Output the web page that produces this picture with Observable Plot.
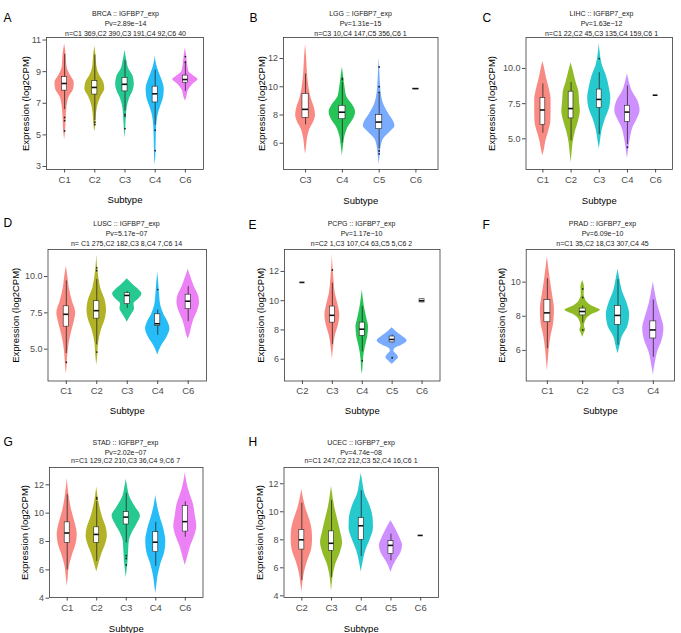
<!DOCTYPE html>
<html><head><meta charset="utf-8">
<script src="https://cdn.jsdelivr.net/npm/d3@7"></script>
<script src="https://cdn.jsdelivr.net/npm/@observablehq/plot@0.6"></script>
<style>
body{margin:0;background:#fff;}
#root{position:relative;width:681px;height:633px;overflow:hidden;background:#fff;font-family:"Liberation Sans",Arial,sans-serif;}
.panel{position:absolute;}
</style></head><body><div id="root"></div>
<script>
// ---------- DATA ----------
const yLabel = "Expression (log2CPM)";
const xLabel = "Subtype";
const pal5 = ["#F8766D","#A3A500","#00BF7D","#00B0F6","#E76BF3"];
const pal4 = ["#F8766D","#7CAE00","#00BFC4","#C77CFF"];
const pal3 = ["#F8766D","#00BA38","#619CFF"];

// Panel A
const A_title = ["BRCA :: IGFBP7_exp","Pv=2.89e\u221214","n=C1 369,C2 390,C3 191,C4 92,C6 40"];
const A_cats = ["C1","C2","C3","C4","C6"];
const A_colors = pal5;
const A_yticks = [3,5,7,9,11];
const A_violins = [
  [[10.75,0],[10.1,.05],[9.3,.08],[8.8,.18],[8.3,.32],[7.9,.3],[7.4,.15],[6.8,.08],[6,.05],[5.2,.03],[4.7,0]],
  [[10.6,0],[10,.04],[9.3,.07],[8.8,.15],[8.3,.3],[7.9,.33],[7.4,.2],[6.8,.09],[6.2,.05],[5.6,.03],[5.2,0]],
  [[10.35,0],[9.7,.06],[9.2,.12],[8.7,.27],[8.2,.31],[7.8,.27],[7.3,.15],[6.7,.07],[6,.04],[5.3,.02],[4.8,0]],
  [[10,0],[9.4,.05],[9,.12],[8.5,.22],[7.9,.3],[7.4,.28],[6.9,.2],[6.3,.1],[5.6,.05],[4.5,.03],[3.6,.02],[3.1,0]],
  [[10.5,0],[10,.04],[9.5,.07],[9.0,.12],[8.7,.3],[8.5,.42],[8.2,.25],[7.8,.1],[7.4,.05],[7.15,0]]
];
const A_boxes = [[6.6,7.8,8.25,8.65,10.1],[5.9,7.55,8.0,8.4,10.05],[6.5,7.75,8.2,8.6,9.7],[5.6,7.05,7.6,8.05,9.1],[7.75,8.3,8.5,8.75,9.6]];
const A_outliers = [[6.1,5.9,5.25],[5.8,5.65],[6.3,6.2,5.4],[5.3,4.0],[9.95,9.6]];

// Panel B
const B_title = ["LGG :: IGFBP7_exp","Pv=1.31e\u221215","n=C3 10,C4 147,C5 356,C6 1"];
const B_cats = ["C3","C4","C5","C6"];
const B_colors = [pal3[0],pal3[1],pal3[2],null];
const B_yticks = [6,8,10,12];
const B_violins = [
  [[13,0],[12,.03],[11,.05],[10,.09],[9.2,.15],[8.5,.24],[8,.27],[7.5,.22],[7,.12],[6.3,.05],[5.6,.02],[5.2,0]],
  [[11.4,0],[10.8,.03],[10,.07],[9.3,.12],[8.7,.28],[8.2,.36],[7.7,.3],[7.1,.15],[6.5,.07],[5.8,.03],[5.1,0]],
  [[12.05,0],[11,.02],[10,.04],[9.3,.07],[8.6,.15],[8,.28],[7.5,.4],[7.2,.43],[6.8,.3],[6.3,.12],[5.7,.05],[5,.02],[4.5,0]],
  null
];
const B_boxes = [[7.3,7.8,8.4,9.5,10.9],[6.0,7.7,8.2,8.65,10.3],[5.6,7.0,7.5,8.0,9.5],[9.87,9.87,9.87,9.87,9.87]];
const B_outliers = [[],[10.6,10.5],[11.4,10,9.6,5.45,5.25],[]];

// Panel C
const C_title = ["LIHC :: IGFBP7_exp","Pv=1.63e\u221212","n=C1 22,C2 45,C3 135,C4 159,C6 1"];
const C_cats = ["C1","C2","C3","C4","C6"];
const C_colors = [pal4[0],pal4[1],pal4[2],pal4[3],null];
const C_yticks = [5,7.5,10];
const C_violins = [
  [[10.5,0],[10,.06],[9.3,.13],[8.6,.22],[7.8,.29],[7,.29],[6.2,.28],[5.5,.2],[4.8,.1],[4.2,.05],[3.8,0]],
  [[10.4,0],[9.8,.08],[9,.18],[8.3,.28],[7.6,.3],[7,.33],[6.3,.27],[5.5,.15],[4.7,.07],[3.9,.03],[3.3,0]],
  [[11.75,0],[11,.04],[10.3,.1],[9.5,.25],[8.6,.36],[7.9,.41],[7.2,.37],[6.4,.22],[5.6,.1],[4.8,.04],[4.3,0]],
  [[9.6,0],[9.1,.06],[8.4,.17],[7.7,.37],[7,.45],[6.4,.35],[5.8,.2],[5,.1],[4.2,.04],[3.6,0]],
  null
];
const C_boxes = [[5.4,6.0,7.05,7.9,8.9],[4.85,6.45,7.15,8.35,9.0],[5.3,7.2,7.8,8.5,9.7],[4.6,6.2,6.9,7.35,8.75],[8.1,8.1,8.1,8.1,8.1]];
const C_outliers = [[],[],[10.7],[4.4],[]];

// Panel D
const D_title = ["LUSC :: IGFBP7_exp","Pv=5.17e\u221207","n= C1 275,C2 182,C3 8,C4 7,C6 14"];
const D_cats = ["C1","C2","C3","C4","C6"];
const D_colors = pal5;
const D_yticks = [5,7.5,10];
const D_violins = [
  [[10.7,0],[10,.05],[9.2,.1],[8.3,.2],[7.5,.31],[6.8,.25],[6,.15],[5.2,.08],[4.4,.04],[3.7,.02],[3.3,0]],
  [[11.5,0],[10.8,.02],[10,.06],[9.2,.13],[8.4,.27],[7.7,.32],[7,.27],[6.3,.15],[5.4,.06],[4.5,.03],[3.9,0]],
  [[9.85,0],[9.5,.16],[9.1,.37],[8.8,.48],[8.5,.4],[8.1,.22],[7.8,.24],[7.4,.15],[7.1,.06],[6.85,0]],
  [[10.3,0],[9.6,.03],[8.8,.06],[8,.1],[7.4,.2],[6.8,.35],[6.4,.4],[5.8,.3],[5.2,.12],[4.6,0]],
  [[10.5,0],[10,.08],[9.3,.2],[8.6,.35],[8.2,.37],[7.6,.3],[7,.18],[6.4,.1],[5.9,.04],[5.7,0]]
];
const D_boxes = [[4.7,6.55,7.4,7.95,9.7],[5.3,7.1,7.65,8.3,9.8],[7.8,8.1,8.7,8.85,8.95],[5.95,6.6,6.75,7.4,7.7],[6.9,7.75,8.3,8.75,9.3]];
const D_outliers = [[4.1],[10.6,10.4,4.8],[],[9.1],[]];

// Panel E
const E_title = ["PCPG :: IGFBP7_exp","Pv=1.17e\u221210","n=C2 1,C3 107,C4 63,C5 5,C6 2"];
const E_cats = ["C2","C3","C4","C5","C6"];
const E_colors = [null,pal3[0],pal3[1],pal3[2],null];
const E_yticks = [6,8,10,12];
const E_violins = [
  null,
  [[13.15,0],[12.3,.02],[11.5,.05],[10.5,.1],[9.8,.18],[9,.25],[8.3,.2],[7.6,.1],[6.8,.04],[6,0]],
  [[10.75,0],[10.2,.03],[9.5,.08],[8.8,.15],[8.2,.21],[7.5,.18],[6.8,.1],[6,.04],[5.3,.02],[4.95,0]],
  [[8.15,0],[7.9,.13],[7.6,.32],[7.25,.5],[6.95,.32],[6.7,.08],[6.55,.06],[6.35,.14],[6.1,.21],[5.85,.1],[5.65,0]],
  null
];
const E_boxes = [[11.25,11.25,11.25,11.25,11.25],[7.0,8.5,9.0,9.6,11.2],[6.5,7.6,8.05,8.5,9.6],[7.1,7.15,7.35,7.55,7.65],[9.85,9.88,10.0,10.1,10.12]];
const E_outliers = [[],[12.1],[5.9],[6.1],[]];

// Panel F
const F_title = ["PRAD :: IGFBP7_exp","Pv=6.09e\u221210","n=C1 35,C2 18,C3 307,C4 45"];
const F_cats = ["C1","C2","C3","C4"];
const F_colors = pal4;
const F_yticks = [6,8,10];
const F_violins = [
  [[11.5,0],[10.8,.04],[10,.09],[9.2,.15],[8.4,.2],[7.6,.18],[6.8,.1],[6,.05],[5.3,.02],[4.8,0]],
  [[10.1,0],[9.7,.05],[9.3,.04],[8.9,.1],[8.6,.26],[8.35,.5],[8.1,.26],[7.8,.1],[7.4,.05],[7.2,.08],[7,.04],[6.75,0]],
  [[10.75,0],[10.2,.05],[9.5,.12],[8.8,.25],[8.1,.33],[7.4,.28],[6.8,.12],[6.2,.05],[5.8,0]],
  [[10,0],[9.4,.05],[8.7,.12],[8,.22],[7.3,.3],[6.6,.25],[5.9,.12],[5.2,.05],[4.55,0]]
];
const F_boxes = [[6.1,7.65,8.2,8.95,10.2],[7.6,8.05,8.28,8.45,8.6],[6.3,7.5,8.05,8.6,10.15],[5.6,6.7,7.2,7.7,8.95]];
const F_outliers = [[],[9.6,9.1,7.2],[],[]];

// Panel G
const G_title = ["STAD :: IGFBP7_exp","Pv=2.02e\u221207","n=C1 129,C2 210,C3 36,C4 9,C6 7"];
const G_cats = ["C1","C2","C3","C4","C6"];
const G_colors = pal5;
const G_yticks = [4,6,8,10,12];
const G_violins = [
  [[12.45,0],[11.8,.03],[11,.08],[10.2,.15],[9.3,.27],[8.5,.34],[7.8,.3],[7,.17],[6.2,.07],[5.4,.03],[4.85,0]],
  [[11.85,0],[11.2,.04],[10.5,.1],[9.7,.2],[9,.32],[8.4,.36],[7.8,.3],[7.1,.17],[6.4,.07],[5.85,0]],
  [[12.4,0],[11.8,.05],[11.1,.13],[10.4,.32],[9.8,.48],[9.2,.36],[8.6,.2],[8,.1],[7.3,.08],[6.6,.06],[6,.03],[5.45,0]],
  [[11.25,0],[10.6,.05],[9.8,.14],[8.9,.27],[8,.34],[7.2,.3],[6.4,.17],[5.5,.07],[4.8,.03],[4.35,0]],
  [[12.85,0],[12.2,.05],[11.4,.15],[10.6,.28],[9.8,.34],[9.1,.39],[8.4,.32],[7.6,.17],[6.9,.08],[6.3,0]]
];
const G_boxes = [[6.0,7.9,8.6,9.35,11.3],[6.6,7.9,8.5,9.0,10.8],[7.9,9.2,9.72,10.07,11.4],[6.25,7.25,7.95,8.66,9.35],[8.3,8.7,9.4,10.5,10.8]];
const G_outliers = [[],[11.1,11.0],[7.0,6.8,6.35],[],[]];

// Panel H
const H_title = ["UCEC :: IGFBP7_exp","Pv=4.74e\u221208","n=C1 247,C2 212,C3 52,C4 16,C6 1"];
const H_cats = ["C2","C3","C4","C5","C6"];
const H_colors = [pal4[0],pal4[1],pal4[2],pal4[3],null];
const H_yticks = [4,6,8,10,12];
const H_violins = [
  [[11.6,0],[11,.05],[10.2,.14],[9.4,.27],[8.6,.35],[8,.36],[7.3,.33],[6.5,.2],[5.6,.08],[4.8,.03],[4.26,0]],
  [[11.8,0],[11.2,.04],[10.4,.1],[9.5,.2],[8.6,.3],[7.8,.37],[7.1,.3],[6.3,.15],[5.5,.06],[4.8,.02],[4.3,0]],
  [[12.75,0],[12.1,.05],[11.3,.12],[10.4,.3],[9.5,.4],[8.8,.41],[8,.3],[7.2,.15],[6.4,.06],[5.7,0]],
  [[9.35,0],[9,.1],[8.5,.22],[8,.33],[7.6,.39],[7.1,.34],[6.6,.2],[6.1,.07],[5.64,0]],
  null
];
const H_boxes = [[5.1,7.3,8.0,8.7,10.6],[5.3,7.2,7.75,8.6,10.8],[6.8,8.0,9.0,9.55,11.5],[6.5,7.0,7.6,7.9,8.4],[8.31,8.31,8.31,8.31,8.31]];
const H_outliers = [[],[],[],[],[]];

// ---------- LAYOUT ----------
const panels = [
  {letter:"A", title:A_title, cats:A_cats, colors:A_colors, yticks:A_yticks, violins:A_violins, boxes:A_boxes, outliers:A_outliers, ydom:[2.81,11.16], fmt:d3.format("d"),
   left:0, top:0, width:225, height:205, frame:[46,37,203,169], letterPos:[3,13], titleX:125, titleY:[11,21,30.5], yTitleX:21.5, xTitleY:196},
  {letter:"B", title:B_title, cats:B_cats, colors:B_colors, yticks:B_yticks, violins:B_violins, boxes:B_boxes, outliers:B_outliers, ydom:[4.14,13.49], fmt:d3.format("d"),
   left:225, top:0, width:230, height:205, frame:[283,37,437.5,169], letterPos:[249,13], titleX:360, titleY:[11,21,30.5], yTitleX:258, xTitleY:196.5},
  {letter:"C", title:C_title, cats:C_cats, colors:C_colors, yticks:C_yticks, violins:C_violins, boxes:C_boxes, outliers:C_outliers, ydom:[2.82,12.2], fmt:d3.format(".1f"),
   left:455, top:0, width:226, height:205, frame:[525.5,37,672,169], letterPos:[482,13], titleX:601, titleY:[11,21,30.5], yTitleX:488, xTitleY:196.5},
  {letter:"D", title:D_title, cats:D_cats, colors:D_colors, yticks:D_yticks, violins:D_violins, boxes:D_boxes, outliers:D_outliers, ydom:[2.81,11.86], fmt:d3.format(".1f"),
   left:0, top:205, width:225, height:210, frame:[47.5,249,206,380.5], letterPos:[3,218], titleX:126, titleY:[221,231,240.5], yTitleX:12, xTitleY:406.5},
  {letter:"E", title:E_title, cats:E_cats, colors:E_colors, yticks:E_yticks, violins:E_violins, boxes:E_boxes, outliers:E_outliers, ydom:[4.51,13.5], fmt:d3.format("d"),
   left:225, top:205, width:230, height:210, frame:[284,249,439.5,380.5], letterPos:[248,220], titleX:361, titleY:[221,231,240.5], yTitleX:257, xTitleY:406.5},
  {letter:"F", title:F_title, cats:F_cats, colors:F_colors, yticks:F_yticks, violins:F_violins, boxes:F_boxes, outliers:F_outliers, ydom:[4.21,11.91], fmt:d3.format("d"),
   left:455, top:205, width:226, height:210, frame:[525.7,249,674,380.5], letterPos:[482,220], titleX:602, titleY:[221,231,240.5], yTitleX:498, xTitleY:406.5},
  {letter:"G", title:G_title, cats:G_cats, colors:G_colors, yticks:G_yticks, violins:G_violins, boxes:G_boxes, outliers:G_outliers, ydom:[4.05,13.22], fmt:d3.format("d"),
   left:0, top:415, width:225, height:218, frame:[49,467,202.5,597], letterPos:[3,437], titleX:125, titleY:[440,449.5,458], yTitleX:21, xTitleY:625},
  {letter:"H", title:H_title, cats:H_cats, colors:H_colors, yticks:H_yticks, violins:H_violins, boxes:H_boxes, outliers:H_outliers, ydom:[3.88,13.16], fmt:d3.format("d"),
   left:225, top:415, width:230, height:218, frame:[283.5,467,438,597], letterPos:[248,437], titleX:360.5, titleY:[440,449.5,458], yTitleX:256, xTitleY:625}
];

const FONT = "'Liberation Sans', Arial, Helvetica, sans-serif";
const root = document.getElementById("root");

function drawPanel(p) {
  const n = p.cats.length;
  const [fx0, fy0, fx1, fy1] = p.frame;
  const mL = fx0 - p.left, mT = fy0 - p.top;
  const mR = p.left + p.width - fx1, mB = p.top + p.height - fy1;
  const at = (ax, ay) => ({frameAnchor: "top-left", dx: ax - fx0, dy: ay - fy0});
  const bw = 0.085;

  const vRows = [];
  p.violins.forEach((v, i) => {
    if (!v) return;
    v.slice().sort((a, b) => a[0] - b[0]).forEach(([y, w]) => vRows.push({g: i + 1, y, w, c: p.colors[i]}));
  });
  const bRows = p.boxes.map((b, i) => b && {g: i + 1, lo: b[0], q1: b[1], med: b[2], q3: b[3], hi: b[4]}).filter(Boolean);
  const oRows = p.outliers.flatMap((o, i) => (o || []).map(y => ({g: i + 1, y})));

  const marks = [
    Plot.areaX(vRows, {y: "y", x1: d => d.g - d.w, x2: d => d.g + d.w, z: "g", fill: "c", fillOpacity: 0.85, curve: "monotone-y"}),
    Plot.ruleX(bRows, {x: "g", y1: "lo", y2: "hi", stroke: "#2a2a2a", strokeWidth: 0.8}),
    Plot.dot(oRows, {x: "g", y: "y", r: 0.9, fill: "#222", stroke: null}),
    Plot.rect(bRows, {x1: d => d.g - bw, x2: d => d.g + bw, y1: "q1", y2: "q3", fill: "white", stroke: "#222", strokeWidth: 0.6}),
    Plot.ruleY(bRows, {y: "med", x1: d => d.g - bw, x2: d => d.g + bw, stroke: "#111", strokeWidth: 1.6}),
    Plot.axisY({ticks: p.yticks, tickFormat: p.fmt, tickSize: 3.5, tickPadding: 2, label: null, fontSize: 9}),
    Plot.axisX({ticks: d3.range(1, n + 1), tickFormat: i => p.cats[i - 1], tickSize: 3.5, tickPadding: 3, label: null, fontSize: 9.5}),
    Plot.frame({stroke: "#3a3a3a", strokeWidth: 0.8}),
    Plot.text([p.letter], {text: d => d, ...at(p.letterPos[0], p.letterPos[1]), textAnchor: "start", fontSize: 12, fill: "#000"}),
    ...p.title.map((t, k) => Plot.text([t], {text: d => d, ...at(p.titleX, p.titleY[k]), textAnchor: "middle", fontSize: 7, fill: "#1a1a1a"})),
    Plot.text([yLabel], {text: d => d, ...at(p.yTitleX, (fy0 + fy1) / 2), rotate: -90, textAnchor: "middle", fontSize: 9.5, fill: "#000"}),
    Plot.text([xLabel], {text: d => d, ...at((fx0 + fx1) / 2, p.xTitleY), textAnchor: "middle", fontSize: 9.5, fill: "#000"})
  ];

  const svg = Plot.plot({
    width: p.width, height: p.height,
    marginLeft: mL, marginRight: mR, marginTop: mT, marginBottom: mB,
    x: {type: "linear", domain: [0.4, n + 0.6]},
    y: {type: "linear", domain: p.ydom},
    color: {type: "identity"},
    style: {background: "transparent", fontFamily: FONT, color: "#4d4d4d", overflow: "visible"},
    marks
  });
  const wrap = document.createElement("div");
  wrap.className = "panel";
  wrap.style.left = p.left + "px";
  wrap.style.top = p.top + "px";
  wrap.appendChild(svg);
  root.appendChild(wrap);
}
panels.forEach(drawPanel);
</script></body></html>
